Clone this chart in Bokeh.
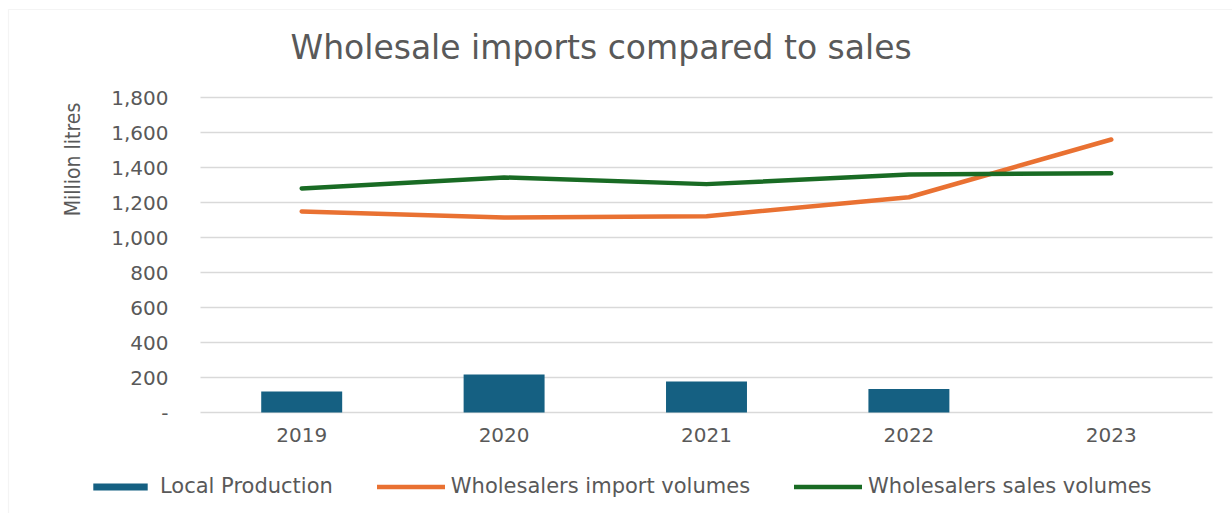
import math
from bokeh.plotting import figure
from bokeh.models import (FixedTicker, Legend, LegendItem, Range1d, ColumnDataSource,
                          Label, BoxAnnotation)
from bokeh.embed import file_html
from bokeh.resources import INLINE

years = ["2019", "2020", "2021", "2022", "2023"]
local_production = [120, 217, 177, 135, 0]
import_volumes = [1149, 1114, 1122, 1230, 1560]
sales_volumes = [1280, 1343, 1305, 1360, 1367]
tick_values = [0, 200, 400, 600, 800, 1000, 1200, 1400, 1600, 1800]
tick_labels = ["-", "200", "400", "600", "800", "1,000", "1,200", "1,400", "1,600", "1,800"]

FONT = "DejaVu Sans"
NARROW = "'Liberation Sans Narrow', 'DejaVu Sans Condensed', sans-serif"
GRAY = "#595959"
W, H = 1232, 513

# layout of the plotting area in canvas pixels
PLOT_LEFT, PLOT_RIGHT, PLOT_TOP, PLOT_BOTTOM = 200, 1212, 97, 412
n = len(years)
xstep = (PLOT_RIGHT - PLOT_LEFT) / n
ymax = tick_values[-1]
yscale = (PLOT_BOTTOM - PLOT_TOP) / ymax


def px2x(px):
    return (px - PLOT_LEFT) / xstep - 0.5


def px2y(py):
    return (PLOT_BOTTOM - py) / yscale


p = figure(x_range=Range1d(px2x(0), px2x(W)), y_range=Range1d(px2y(H), px2y(0)),
           frame_width=W, frame_height=H, min_border=0,
           output_backend="svg", toolbar_location=None)
p.border_fill_color = "white"
p.outline_line_color = None
p.xgrid.visible = False
p.ygrid.visible = False

xs = list(range(n))
src = ColumnDataSource(dict(x=xs, local=local_production,
                            imports=import_volumes, sales=sales_volumes))

# chart border
p.add_layout(BoxAnnotation(left=px2x(8), right=px2x(W + 5), top=px2y(9), bottom=px2y(H + 5),
                           fill_alpha=0, line_color="#D9D9D9", line_width=1.2, level="underlay"))

# horizontal gridlines at the y ticks, spanning the category area
p.segment(x0=[-0.5] * len(tick_values), x1=[n - 0.5] * len(tick_values),
          y0=tick_values, y1=tick_values, line_color="#D9D9D9", line_width=1.5)

bars = p.vbar(x="x", top="local", width=0.4, source=src,
              fill_color="#156082", line_color=None)
l1 = p.line(x="x", y="imports", source=src, line_color="#E97132", line_width=4.5,
            line_cap="round", line_join="round")
l2 = p.line(x="x", y="sales", source=src, line_color="#196B24", line_width=4.5,
            line_cap="round", line_join="round")

# y axis
ya = p.yaxis[0]
ya.fixed_location = -0.5
ya.bounds = (0, ymax)
ya.ticker = FixedTicker(ticks=tick_values)
ya.major_label_overrides = {v: s for v, s in zip(tick_values, tick_labels)}
ya.axis_line_color = None
ya.major_tick_line_color = None
ya.minor_tick_line_color = None
ya.major_tick_out = 0
ya.minor_tick_out = 0
ya.major_label_text_font = FONT
ya.major_label_text_font_size = "20px"
ya.major_label_text_color = GRAY
ya.major_label_standoff = 32

# x axis
xa = p.xaxis[0]
xa.fixed_location = 0
xa.ticker = FixedTicker(ticks=xs)
xa.major_label_overrides = {i: y for i, y in zip(xs, years)}
xa.axis_line_color = None
xa.major_tick_line_color = None
xa.minor_tick_line_color = None
xa.major_tick_out = 0
xa.minor_tick_out = 0
xa.major_label_text_font = FONT
xa.major_label_text_font_size = "20px"
xa.major_label_text_color = GRAY
xa.major_label_standoff = 15

# title
p.add_layout(Label(x=290, y=H - 47, x_units="screen", y_units="screen",
                   text="Wholesale imports compared to sales", text_font=FONT,
                   text_font_size="33px", text_color=GRAY,
                   text_align="left", text_baseline="middle"))

# y axis title
p.add_layout(Label(x=72, y=H - 159, x_units="screen", y_units="screen",
                   text="Million litres", angle=math.pi / 2, text_font=NARROW,
                   text_font_size="21px", text_color=GRAY,
                   text_align="center", text_baseline="middle"))

legend = Legend(items=[
    LegendItem(label="Local Production", renderers=[bars]),
    LegendItem(label="Wholesalers import volumes", renderers=[l1]),
    LegendItem(label="Wholesalers sales volumes", renderers=[l2]),
], orientation="horizontal", location=(86, 15),
    label_text_font=FONT, label_text_font_size="21px", label_text_color=GRAY,
    glyph_width=68, glyph_height=9, spacing=44, label_standoff=6,
    border_line_color=None, background_fill_alpha=0, padding=0, margin=0)
p.add_layout(legend)

open("out.html", "w").write(file_html(p, INLINE))
